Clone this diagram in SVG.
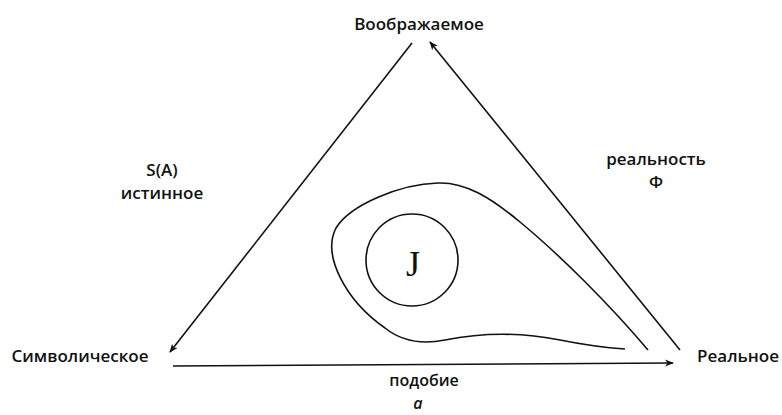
<svg xmlns="http://www.w3.org/2000/svg" width="782" height="415" viewBox="0 0 782 415">
<defs>
<marker id="ah" viewBox="0 0 10 10" refX="9" refY="5" markerWidth="9" markerHeight="9" orient="auto" markerUnits="userSpaceOnUse">
<path d="M0,1 L10,5 L0,9 L3,5 Z" fill="#111"/>
</marker>
<style>
.lbl{font-family:"Open Sans","DejaVu Sans",sans-serif;font-weight:600;font-size:17px;fill:#111;text-anchor:middle}
.sm{font-size:16px}
.ln{stroke:#111;stroke-width:1.6;fill:none}
</style>
</defs>
<rect width="782" height="415" fill="#fff"/>
<g id="connectors">
<line class="ln" x1="412" y1="43" x2="170" y2="352" marker-end="url(#ah)"/>
<line class="ln" x1="680" y1="350" x2="430" y2="42" marker-end="url(#ah)"/>
<line class="ln" x1="173" y1="366" x2="673" y2="363" marker-end="url(#ah)"/>
</g>
<g id="imaginary"><text class="lbl" x="419" y="30">Воображаемое</text></g>
<g id="symbolic"><text class="lbl" x="80" y="362">Символическое</text></g>
<g id="real"><text class="lbl" x="738" y="362">Реальное</text></g>
<g id="label-sa"><text class="lbl" x="162" y="176">S(A)</text><text class="lbl" x="162" y="199">истинное</text></g>
<g id="label-reality"><text class="lbl" x="656" y="165">реальность</text><text class="lbl" x="656" y="188">Ф</text></g>
<g id="label-similarity"><text class="lbl sm" x="424" y="386">подобие</text><text class="lbl sm" x="418" y="409" font-style="italic">a</text></g>
<g id="loop"><path class="ln" d="M 648 350 C 610 305, 560 255, 520 222 C 490 197, 465 182, 438 183 C 400 184, 350 205, 336 228 C 322 255, 345 300, 385 328 C 400 340, 420 345, 445 340 C 480 333, 520 332, 560 340 C 590 346, 610 348, 625 349"/></g>
<g id="j"><circle class="ln" cx="412" cy="260" r="46"/><text x="413" y="276" font-family="Liberation Serif,serif" font-size="36" text-anchor="middle" fill="#111">J</text></g>
</svg>
